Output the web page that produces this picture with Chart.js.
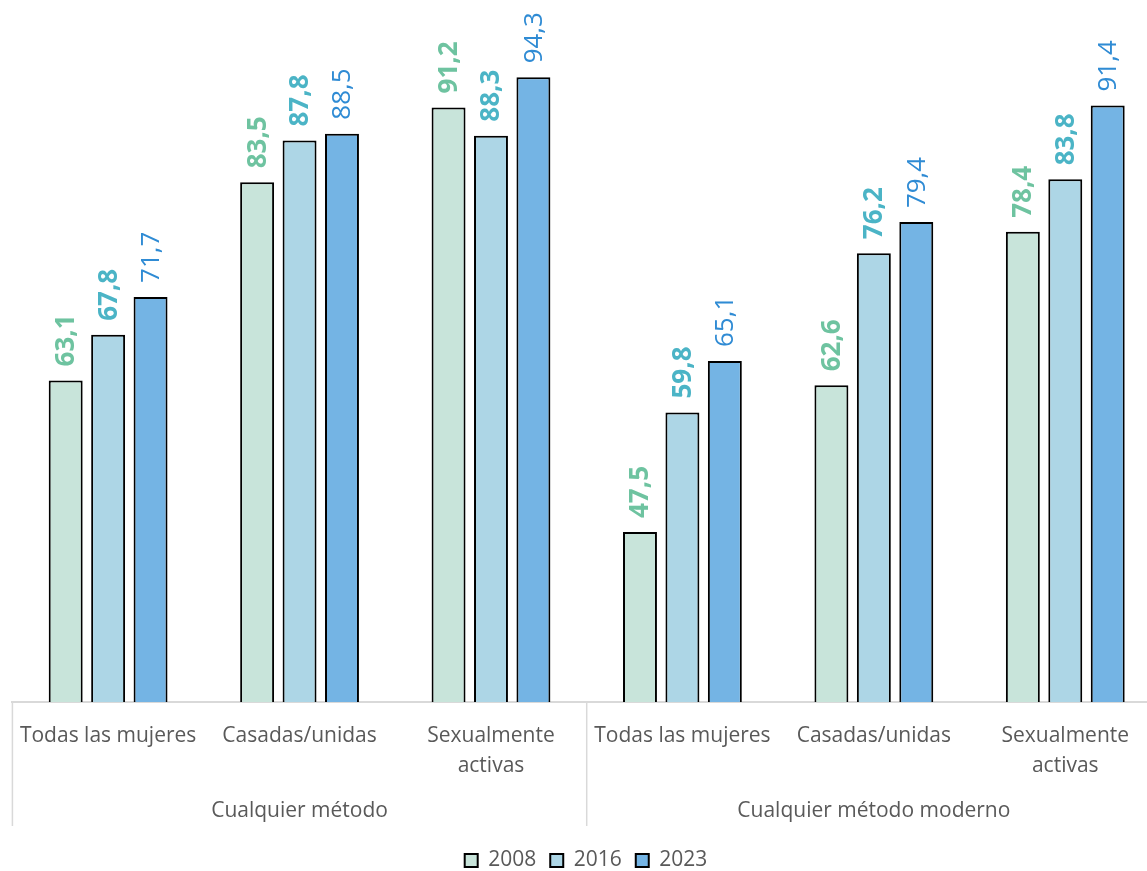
<!DOCTYPE html>
<html>
<head>
<meta charset="utf-8">
<script src="https://cdn.jsdelivr.net/npm/chart.js@4/dist/chart.umd.min.js"></script>
<style>
  html, body { margin: 0; padding: 0; background: #fff; overflow: hidden; }
  canvas { display: block; }
</style>
</head>
<body>
<canvas id="contraChart" width="1172" height="871"></canvas>
<script>
const categories = ['Todas las mujeres', 'Casadas/unidas', ['Sexualmente', 'activas'],
                    'Todas las mujeres', 'Casadas/unidas', ['Sexualmente', 'activas']];
const groups = ['Cualquier método', 'Cualquier método moderno'];
const years = ['2008', '2016', '2023'];
const values2008 = [63.1, 83.5, 91.2, 47.5, 62.6, 78.4];
const values2016 = [67.8, 87.8, 88.3, 59.8, 76.2, 83.8];
const values2023 = [71.7, 88.5, 94.3, 65.1, 79.4, 91.4];

const fills = ['#C8E4DA', '#ADD6E6', '#74B4E4'];
const labelColors = ['#6EC3A0', '#4BB4C6', '#2F8BD4'];
const labelFonts = ['bold 26px "Open Sans"', 'bold 26px "Open Sans"', '26px "Open Sans"'];
const axisGrey = '#D9D9D9';
const textGrey = '#595959';

// rotated value labels above each bar
const valueLabels = {
  id: 'valueLabels',
  afterDatasetsDraw(chart) {
    const ctx = chart.ctx;
    chart.data.datasets.forEach((ds, i) => {
      chart.getDatasetMeta(i).data.forEach((bar, j) => {
        ctx.save();
        ctx.translate(bar.x + 1, bar.y - 14);
        ctx.rotate(-Math.PI / 2);
        ctx.font = labelFonts[i];
        ctx.fillStyle = labelColors[i];
        ctx.textAlign = 'left';
        ctx.textBaseline = 'middle';
        ctx.fillText(ds.data[j].toFixed(1).replace('.', ','), 0, 0);
        ctx.restore();
      });
    });
  }
};

// vertical separators of the two-level category axis
const groupLines = {
  id: 'groupLines',
  afterDraw(chart) {
    const x = chart.scales.x;
    const ctx = chart.ctx;
    const mid = (x.left + x.right) / 2;
    ctx.save();
    ctx.strokeStyle = axisGrey;
    ctx.lineWidth = 1.5;
    [x.left, mid, x.right].forEach(px => {
      ctx.beginPath();
      ctx.moveTo(px, x.top);
      ctx.lineTo(px, x.top + 124);
      ctx.stroke();
    });
    ctx.restore();
  }
};

const ctx = document.getElementById('contraChart').getContext('2d');
const contraChart = new Chart(ctx, {
  type: 'bar',
  data: {
    labels: categories,
    datasets: [
      { label: years[0], data: values2008, backgroundColor: fills[0] },
      { label: years[1], data: values2016, backgroundColor: fills[1] },
      { label: years[2], data: values2023, backgroundColor: fills[2] }
    ].map(d => Object.assign(d, {
      borderColor: '#000',
      borderWidth: 2,
      borderSkipped: false,
      categoryPercentage: 0.665,
      barPercentage: 0.8
    }))
  },
  options: {
    responsive: false,
    animation: false,
    devicePixelRatio: 1,
    layout: { padding: { top: 22, left: 11, right: 11, bottom: -10 } },
    scales: {
      y: { display: false, min: 30, max: 100 },
      x: {
        grid: { display: false, drawTicks: false },
        border: { display: true, color: axisGrey, width: 2 },
        ticks: {
          color: textGrey,
          font: { family: 'Open Sans', size: 21, lineHeight: 1.43 },
          padding: 19,
          maxRotation: 0,
          autoSkip: false
        },
        afterFit(scale) { scale.height = 78; }
      },
      x2: {
        type: 'category',
        position: 'bottom',
        labels: groups,
        offset: true,
        grid: { display: false, drawTicks: false },
        border: { display: false },
        ticks: {
          color: textGrey,
          font: { family: 'Open Sans', size: 21 },
          padding: 18
        },
        afterFit(scale) { scale.height = 56; }
      }
    },
    plugins: {
      legend: {
        position: 'bottom',
        labels: {
          color: textGrey,
          font: { family: 'Open Sans', size: 21 },
          boxWidth: 13,
          boxHeight: 13,
          padding: 14
        }
      },
      tooltip: { enabled: false }
    }
  },
  plugins: [valueLabels, groupLines]
});
</script>
</body>
</html>
